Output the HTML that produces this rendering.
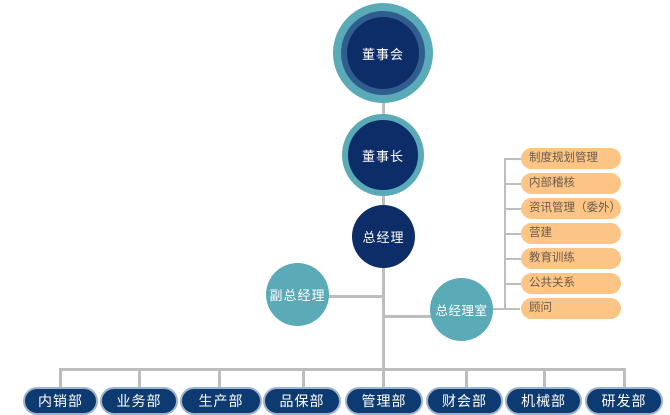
<!DOCTYPE html>
<html><head><meta charset="utf-8"><style>
body{margin:0;width:670px;height:414px;background:#fff;overflow:hidden;position:relative;font-family:"Liberation Sans","Noto Sans CJK SC",sans-serif}
.c{position:absolute;border-radius:50%;display:flex;align-items:center;justify-content:center;color:#fff;font-size:13px;box-sizing:border-box;letter-spacing:1px}
.l{position:absolute;background:#bdbdbd}
.p{position:absolute;left:521px;width:100px;height:21px;border-radius:11px;background:#fcc586;color:#6a5a4a;font-size:11.5px;line-height:21px;padding-left:8px;box-sizing:border-box}
.b{position:absolute;top:387px;height:28px;border-radius:14px;background:#0d3a70;border:2px solid #9fb4cc;box-sizing:border-box;color:#fff;font-size:14px;display:flex;align-items:center;justify-content:center;letter-spacing:1px}
</style></head><body>
<div class="l" style="left:382px;top:90px;width:3px;height:298px"></div>
<div class="l" style="left:60px;top:368px;width:566px;height:3px"></div>
<div class="l" style="left:59px;top:368px;width:3px;height:20px"></div>
<div class="l" style="left:138px;top:368px;width:3px;height:20px"></div>
<div class="l" style="left:218px;top:368px;width:3px;height:20px"></div>
<div class="l" style="left:302px;top:368px;width:3px;height:20px"></div>
<div class="l" style="left:465px;top:368px;width:3px;height:20px"></div>
<div class="l" style="left:543px;top:368px;width:3px;height:20px"></div>
<div class="l" style="left:623px;top:368px;width:3px;height:20px"></div>
<div class="l" style="left:300px;top:295px;width:84px;height:3px"></div>
<div class="l" style="left:384px;top:315px;width:80px;height:3px"></div>
<div class="l" style="left:490px;top:308px;width:30px;height:2px"></div>
<div class="l" style="left:504px;top:158px;width:2px;height:151px"></div>
<div class="l" style="left:505px;top:158px;width:16px;height:2px"></div>
<div class="l" style="left:505px;top:183px;width:16px;height:2px"></div>
<div class="l" style="left:505px;top:208px;width:16px;height:2px"></div>
<div class="l" style="left:505px;top:233px;width:16px;height:2px"></div>
<div class="l" style="left:505px;top:258px;width:16px;height:2px"></div>
<div class="l" style="left:505px;top:283px;width:16px;height:2px"></div>

<div class="c" style="left:333px;top:3px;width:100px;height:100px;background:#5aaab8"></div>
<div class="c" style="left:341px;top:11px;width:84px;height:84px;background:#2e5d8e"></div>
<div class="c" style="left:347px;top:17px;width:72px;height:72px;background:#0d2d68">董事会</div>
<div class="c" style="left:342px;top:114px;width:82px;height:82px;background:#0d2d68;border:6px solid #5aaab8">董事长</div>
<div class="c" style="left:352px;top:205px;width:63px;height:63px;background:#0d2d68">总经理</div>
<div class="c" style="left:266px;top:263px;width:63px;height:63px;background:#5aaab8">副总经理</div>
<div class="c" style="left:430px;top:278px;width:63px;height:63px;background:#5aaab8;font-size:12.5px;letter-spacing:0.5px">总经理室</div>

<div class="p" style="top:148px">制度规划管理</div>
<div class="p" style="top:173px">内部稽核</div>
<div class="p" style="top:198px">资讯管理（委外）</div>
<div class="p" style="top:223px">营建</div>
<div class="p" style="top:248px">教育训练</div>
<div class="p" style="top:273px">公共关系</div>
<div class="p" style="top:298px">顾问</div>

<div class="b" style="left:23px;width:75px">内销部</div>
<div class="b" style="left:100px;width:78px">业务部</div>
<div class="b" style="left:180px;width:82px">生产部</div>
<div class="b" style="left:263px;width:78px">品保部</div>
<div class="b" style="left:345px;width:78px">管理部</div>
<div class="b" style="left:426px;width:77px">财会部</div>
<div class="b" style="left:505px;width:77px">机械部</div>
<div class="b" style="left:585px;width:78px">研发部</div>
</body></html>
